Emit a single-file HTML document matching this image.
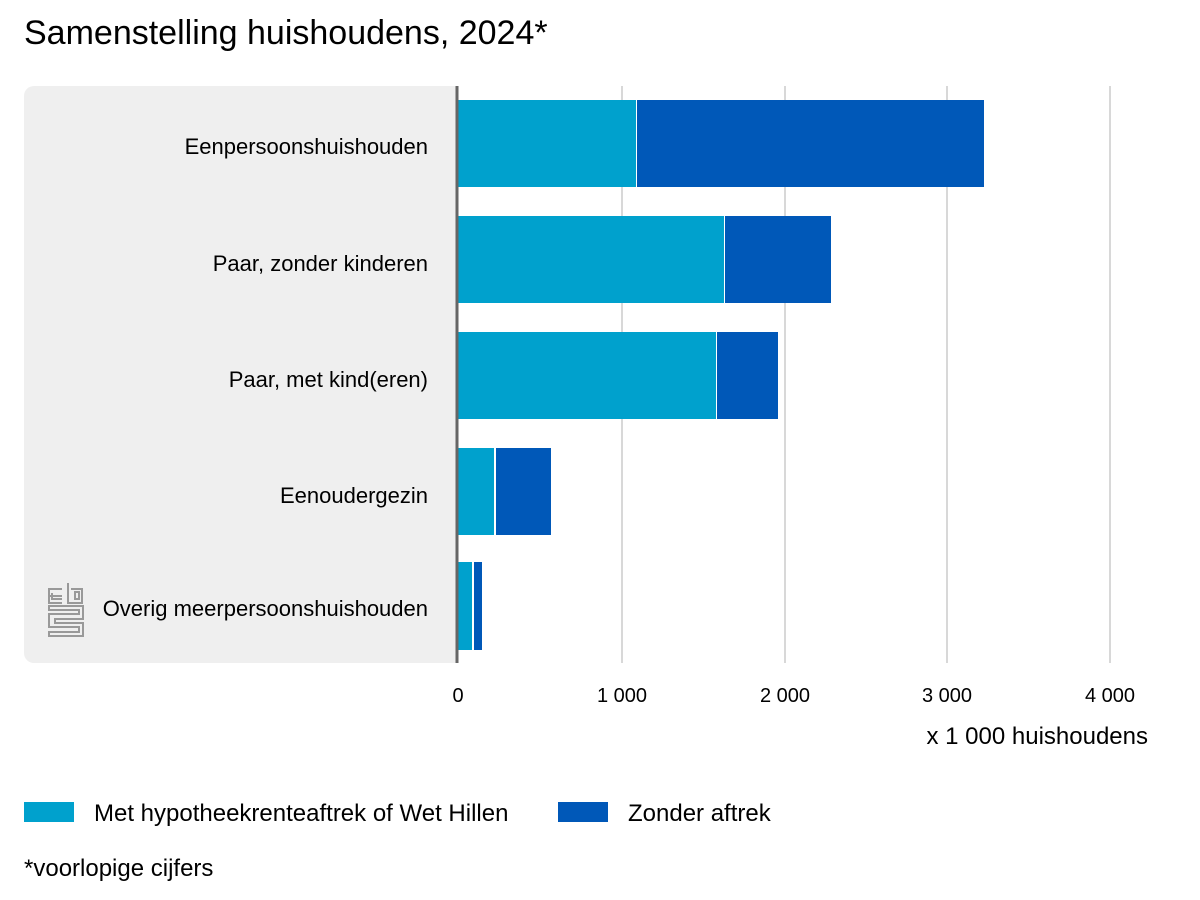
<!DOCTYPE html>
<html><head><style>
body{margin:0;width:1200px;height:900px;background:#fff;font-family:"Liberation Sans",Arial,sans-serif;color:#000;position:relative;overflow:hidden}
.a{position:absolute}
</style></head><body>
<div class="a" style="left:24px;top:14px;font-size:34px;white-space:nowrap">Samenstelling huishoudens, 2024*</div>
<svg class="a" style="left:0;top:0" width="1200" height="900">
<rect x="24" y="86" width="440" height="577" rx="10" fill="#efefef"/>
<rect x="458" y="86" width="742" height="577" fill="#fff"/>
<g stroke="#ccc" stroke-width="1.5">
<line x1="622" y1="86" x2="622" y2="663"/><line x1="785" y1="86" x2="785" y2="663"/>
<line x1="947" y1="86" x2="947" y2="663"/><line x1="1110" y1="86" x2="1110" y2="663"/></g>
<g fill="#00a1cd">
<rect x="458" y="100" width="178" height="87"/><rect x="458" y="216" width="266" height="87"/>
<rect x="458" y="332" width="258" height="87"/><rect x="458" y="448" width="36" height="87"/>
<rect x="458" y="562" width="14" height="88"/></g>
<g fill="#0058b8">
<rect x="637" y="100" width="347" height="87"/><rect x="725" y="216" width="106" height="87"/>
<rect x="717" y="332" width="61" height="87"/><rect x="496" y="448" width="55" height="87"/>
<rect x="474" y="562" width="8" height="88"/></g>
<line x1="457" y1="86" x2="457" y2="663" stroke="#666" stroke-width="3"/>
<g fill="none" stroke="#999" stroke-width="2">
<path d="M62 589h-13v14h13M52 593v6h10M49 596h13"/>
<path d="M68 583v20h14v-14h-11M75 592v7h4v-7z"/>
<path d="M49 606h34v13h-28v4h28v13h-34v-4h30v-5h-30v-13h30v-4h-30z"/>
</g>
<g font-size="22" text-anchor="end" font-family="Liberation Sans,Arial,sans-serif">
<text x="428" y="154">Eenpersoonshuishouden</text>
<text x="428" y="271">Paar, zonder kinderen</text>
<text x="428" y="387">Paar, met kind(eren)</text>
<text x="428" y="503">Eenoudergezin</text>
<text x="428" y="616">Overig meerpersoonshuishouden</text>
</g>
<g font-size="20" text-anchor="middle" font-family="Liberation Sans,Arial,sans-serif">
<text x="458" y="702">0</text><text x="622" y="702">1 000</text><text x="785" y="702">2 000</text>
<text x="947" y="702">3 000</text><text x="1110" y="702">4 000</text>
<text x="1148" y="744" text-anchor="end" font-size="24">x 1 000 huishoudens</text>
</g>
<rect x="24" y="802" width="50" height="20" fill="#00a1cd"/>
<rect x="558" y="802" width="50" height="20" fill="#0058b8"/>
<g font-size="24" font-family="Liberation Sans,Arial,sans-serif">
<text x="94" y="821">Met hypotheekrenteaftrek of Wet Hillen</text>
<text x="628" y="821">Zonder aftrek</text>
<text x="24" y="876" font-size="24">*voorlopige cijfers</text>
</g>
</svg>
</body></html>
